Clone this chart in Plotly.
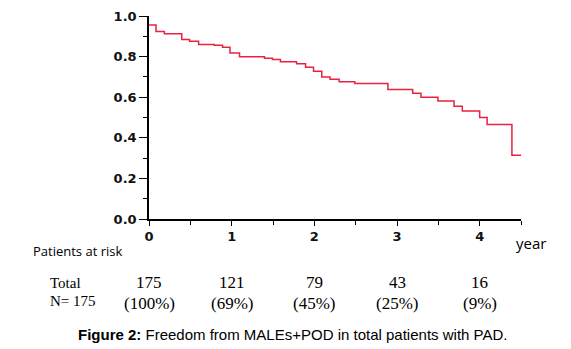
import plotly.graph_objects as go

# Kaplan-Meier step data (years, freedom from MALEs+POD)
time_years = [0, 0.085, 0.186, 0.396, 0.49, 0.60, 0.79, 0.89, 0.98, 1.095, 1.397, 1.494,
              1.59, 1.785, 1.894, 1.99, 2.09, 2.19, 2.30, 2.49, 2.89, 3.19, 3.29, 3.495,
              3.69, 3.79, 4.0, 4.09, 4.39, 4.5]
survival = [0.956, 0.924, 0.913, 0.884, 0.876, 0.860, 0.856, 0.846, 0.818, 0.799, 0.792, 0.786,
            0.775, 0.765, 0.748, 0.728, 0.699, 0.689, 0.676, 0.667, 0.638, 0.619, 0.600, 0.581,
            0.556, 0.532, 0.500, 0.465, 0.314, 0.314]

risk_years = [0, 1, 2, 3, 4]
risk_counts = ["175", "121", "79", "43", "16"]
risk_pct = ["(100%)", "(69%)", "(45%)", "(25%)", "(9%)"]

y_ticks = [0.0, 0.2, 0.4, 0.6, 0.8, 1.0]
x_ticks = [0, 1, 2, 3, 4]

W, H = 571, 349
ML, MR, MT, MB = 149, 50, 9, 130
PW = W - ML - MR
PH = H - MT - MB

def px_x(px):
    return (px - ML) / PW

def px_y(py):
    return (H - MB - py) / PH

fig = go.Figure()
fig.add_trace(go.Scatter(x=time_years, y=survival, mode="lines",
                         line=dict(color="#e8223f", width=1.5, shape="hv"),
                         showlegend=False, hoverinfo="skip"))

tick_font = dict(family="DejaVu Sans", size=13, color="#111111")

fig.update_layout(
    width=W, height=H,
    margin=dict(l=ML, r=MR, t=MT, b=MB, pad=0),
    paper_bgcolor="white", plot_bgcolor="white",
    xaxis=dict(range=[0, 4.5], showgrid=False, zeroline=False,
               showline=True, linecolor="black", linewidth=1.5,
               ticks="outside", ticklen=5, tickwidth=1, tickcolor="black",
               tickvals=x_ticks, ticktext=[f"<b>{v}</b>" for v in x_ticks],
               tickfont=tick_font,
               minor=dict(dtick=0.5, tick0=0, ticks="outside", ticklen=4, tickcolor="black")),
    yaxis=dict(range=[0, 1.0], showgrid=False, zeroline=False,
               showline=True, linecolor="black", linewidth=1.5,
               ticks="outside", ticklen=8, tickwidth=1, tickcolor="black",
               tickvals=y_ticks, ticktext=[f"<b>{v:.1f}</b>" for v in y_ticks],
               tickfont=tick_font,
               minor=dict(dtick=0.1, tick0=0, ticks="outside", ticklen=4, tickcolor="black")),
)

ann = []
ann.append(dict(text="year", xref="paper", yref="paper", x=px_x(531), y=px_y(244),
                xanchor="center", yanchor="middle", showarrow=False,
                font=dict(family="Open Sans", size=15, color="black")))
ann.append(dict(text="Patients at risk", xref="paper", yref="paper", x=px_x(31), y=px_y(252),
                xanchor="left", yanchor="middle", showarrow=False,
                font=dict(family="Open Sans", size=13, color="black")))
ann.append(dict(text="Total", xref="paper", yref="paper", x=px_x(48), y=px_y(285),
                xanchor="left", yanchor="middle", showarrow=False,
                font=dict(family="Liberation Serif", size=15, color="black")))
ann.append(dict(text="N= 175", xref="paper", yref="paper", x=px_x(48), y=px_y(304),
                xanchor="left", yanchor="middle", showarrow=False,
                font=dict(family="Liberation Serif", size=15, color="black")))
for yr, c, p in zip(risk_years, risk_counts, risk_pct):
    ann.append(dict(text=c, xref="x", yref="paper", x=yr, y=px_y(285),
                    xanchor="center", yanchor="middle", showarrow=False,
                    font=dict(family="Liberation Serif", size=17, color="black")))
    ann.append(dict(text=p, xref="x", yref="paper", x=yr, y=px_y(306),
                    xanchor="center", yanchor="middle", showarrow=False,
                    font=dict(family="Liberation Serif", size=17, color="black")))
ann.append(dict(text="<b>Figure 2:</b> Freedom from MALEs+POD in total patients with PAD.",
                xref="paper", yref="paper", x=px_x(292), y=px_y(338),
                xanchor="center", yanchor="middle", showarrow=False,
                font=dict(family="Liberation Sans", size=15, color="black")))
fig.update_layout(annotations=ann)

fig.write_html("out.html")
